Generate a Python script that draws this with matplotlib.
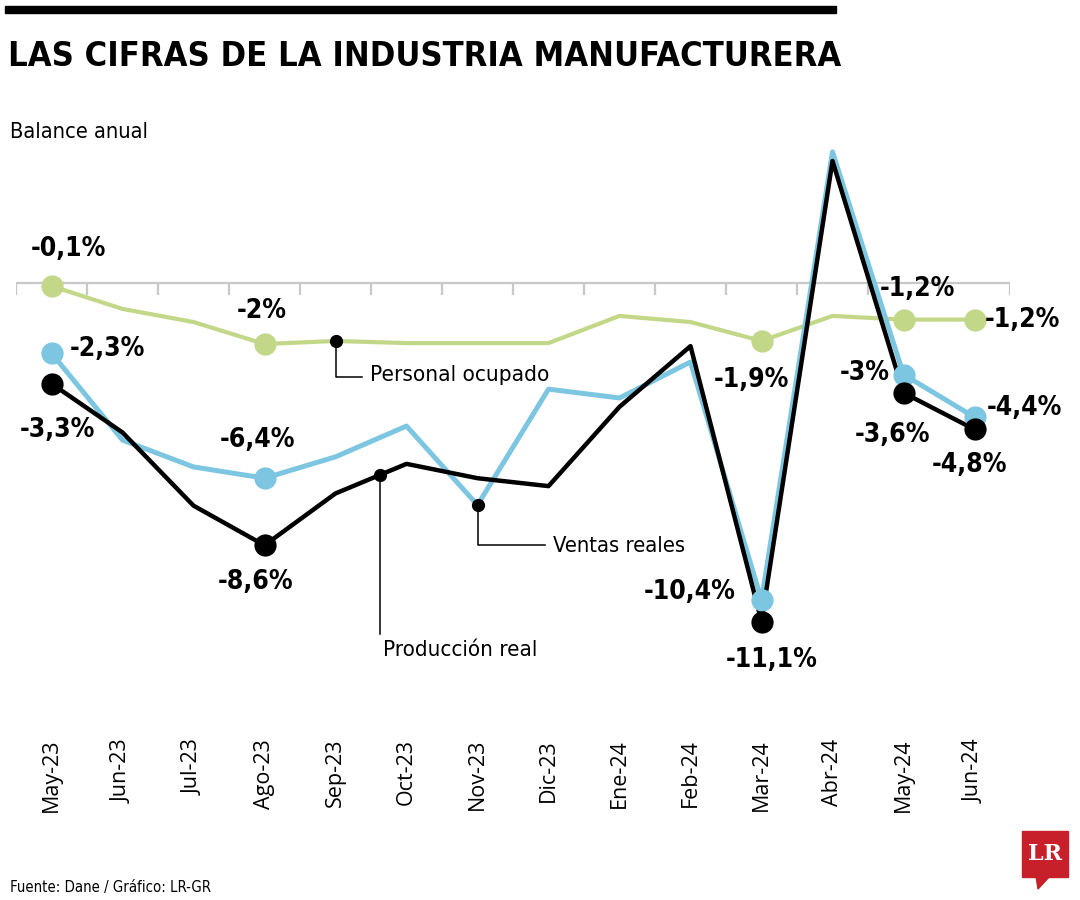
import matplotlib
matplotlib.use('Agg')
import matplotlib.pyplot as plt
from matplotlib import font_manager as fm
from matplotlib.patches import Rectangle, Polygon
from matplotlib.lines import Line2D
import numpy as np

# ---------------- data ----------------
months = ["May-23", "Jun-23", "Jul-23", "Ago-23", "Sep-23", "Oct-23", "Nov-23",
          "Dic-23", "Ene-24", "Feb-24", "Mar-24", "Abr-24", "May-24", "Jun-24"]
personal = [-0.1, -0.85, -1.28, -2.0, -1.9, -1.97, -1.97, -1.97, -1.08, -1.28, -1.9, -1.08, -1.2, -1.2]
ventas = [-2.3, -5.15, -6.03, -6.4, -5.7, -4.69, -7.28, -3.48, -3.77, -2.59, -10.4, 4.3, -3.0, -4.4]
produccion = [-3.3, -4.9, -7.3, -8.6, -6.9, -5.93, -6.4, -6.66, -4.06, -2.07, -11.1, 4.0, -3.6, -4.8]
marker_idx = [0, 3, 10, 12, 13]

personal_labels = ["-0,1%", "-2%", "-1,9%", "-1,2%", "-1,2%"]
ventas_labels = ["-2,3%", "-6,4%", "-10,4%", "-3%", "-4,4%"]
produccion_labels = ["-3,3%", "-8,6%", "-11,1%", "-3,6%", "-4,8%"]

title = "LAS CIFRAS DE LA INDUSTRIA MANUFACTURERA"
subtitle = "Balance anual"
source = "Fuente: Dane / Gráfico: LR-GR"

GREEN = "#c2d787"
BLUE = "#7dc6e1"
BLACK = "#000000"

# ---------------- fonts ----------------
def find_font(bold):
    for pref in ("Liberation Sans Narrow", "DejaVu Sans"):
        for f in fm.fontManager.ttflist:
            if f.name == pref and f.style == "normal":
                cond = ("Narrow" in f.name) or (f.stretch in ("condensed", "semi-condensed")) \
                    or ("Condensed" in f.fname)
                w = f.weight if isinstance(f.weight, int) else (700 if "bold" in str(f.weight) else 400)
                if cond and ((w >= 600) == bold):
                    return fm.FontProperties(fname=f.fname)
    return fm.FontProperties(family="Liberation Sans", weight="bold" if bold else "normal")

FB = find_font(True)
FR = find_font(False)

W, H = 1080, 900
fig = plt.figure(figsize=(W / 100, H / 100), dpi=100)

def fx(px):
    return px / W

def fy(py):
    return 1 - py / H

# axes: x 16..1010 px, y 140..700 px (top-based)
ax = fig.add_axes([fx(16), fy(700), (1010 - 16) / W, (700 - 140) / H])
n = len(months)
x = np.arange(n)
ax.set_xlim(-0.5, n - 0.5)
ppu = 30.5
ax.set_ylim(-(700 - 283) / ppu, (283 - 140) / ppu)
for s in ax.spines.values():
    s.set_visible(False)
ax.set_yticks([])
ax.set_xticks(x)
ax.set_xticklabels(months, rotation=90, fontsize=15.5, family="Open Sans", va="top", ha="center")
ax.tick_params(axis="x", length=0, pad=28)
ax.patch.set_alpha(0)

# zero line and boundary ticks
ax.axhline(0, color="#c8c8c8", lw=1.6, zorder=1)
ax.vlines(np.arange(n + 1) - 0.5, -12 / ppu, 0, color="#c8c8c8", lw=1.6, zorder=1)

# lines
ax.plot(x, personal, color=GREEN, lw=3.0, zorder=2, solid_joinstyle="round")
ax.plot(x, ventas, color=BLUE, lw=3.6, zorder=3, solid_joinstyle="round")
ax.plot(x, produccion, color=BLACK, lw=3.2, zorder=4, solid_joinstyle="round")

mi = np.array(marker_idx)
ax.plot(mi, np.array(personal)[mi], "o", color=GREEN, ms=16, mew=0, zorder=5)
ax.plot(mi, np.array(ventas)[mi], "o", color=BLUE, ms=16, mew=0, zorder=5)
ax.plot(mi, np.array(produccion)[mi], "o", color=BLACK, ms=16, mew=0, zorder=6)

# value labels: (offset px dx, dy, ha)
offs_personal = [(17, 37, "center"), (-3, 33, "center"), (-10, -39, "center"), (14, 31, "center"), (10, 0, "left")]
offs_ventas = [(18, 4, "left"), (-7, 38, "center"), (-26, 8, "right"), (-14, 2, "right"), (12, 9, "left")]
offs_produccion = [(6, -46, "center"), (-9, -37, "center"), (10, -38, "center"), (-11, -42, "center"), (-5, -36, "center")]

LABEL_SIZE = 19
for series, labels, offs in ((personal, personal_labels, offs_personal),
                             (ventas, ventas_labels, offs_ventas),
                             (produccion, produccion_labels, offs_produccion)):
    for i, lab, (dx, dy, ha) in zip(marker_idx, labels, offs):
        ax.annotate(lab, (i, series[i]), xytext=(dx, dy), textcoords="offset pixels",
                    ha=ha, va="center", fontproperties=FB, fontsize=LABEL_SIZE,
                    color="black", zorder=10)

# callouts (figure pixel coordinates, top-based y)
def to_px(xv, yv):
    X, Y = ax.transData.transform((xv, yv))
    return X, H - Y

def seg(points):
    xs = [fx(p[0]) for p in points]
    ys = [fy(p[1]) for p in points]
    fig.add_artist(Line2D(xs, ys, color="black", lw=1.1, transform=fig.transFigure, zorder=8))

texts = []
# Personal ocupado
px_, py_ = to_px(4, personal[4])
ax.plot([4], [personal[4]], "o", color="black", ms=8.5, zorder=7)
seg([(px_, py_), (px_, 377), (362, 377)])
texts.append((fig.text(fx(370), fy(375), "Personal ocupado", fontproperties=FR, fontsize=18,
                       ha="left", va="center"), 178))
# Ventas reales
px_, py_ = to_px(6, ventas[6])
ax.plot([6], [ventas[6]], "o", color="black", ms=8.5, zorder=7)
seg([(px_, py_), (px_, 545), (545, 545)])
texts.append((fig.text(fx(553), fy(546), "Ventas reales", fontproperties=FR, fontsize=18,
                       ha="left", va="center"), 132))
# Producción real
xc = 4.62
yc = float(np.interp(xc, x, produccion))
ax.plot([xc], [yc], "o", color="black", ms=8.5, zorder=7)
px_, py_ = to_px(xc, yc)
seg([(px_, py_), (px_, 634)])
texts.append((fig.text(fx(383), fy(650), "Producción real", fontproperties=FR, fontsize=18,
                       ha="left", va="center"), 154))

# header
fig.add_artist(Rectangle((fx(5), fy(13)), (836 - 5) / W, 7 / H, color="black",
                         transform=fig.transFigure))
t_title = fig.text(fx(8), fy(66), title, fontproperties=FB, fontsize=30, ha="left", va="baseline")
t_sub = fig.text(fx(10), fy(138), subtitle, fontproperties=FR, fontsize=20, ha="left", va="baseline")
t_src = fig.text(fx(10), fy(892), source, fontproperties=FR, fontsize=12, ha="left", va="baseline")
texts += [(t_title, 830), (t_sub, 138), (t_src, 200)]

# logo
fig.add_artist(Rectangle((fx(1022), fy(877)), 46 / W, 46 / H, color="#c8202a",
                         transform=fig.transFigure))
fig.add_artist(Polygon([(fx(1036), fy(876)), (fx(1050), fy(876)), (fx(1038), fy(889))],
                       closed=True, color="#c8202a", transform=fig.transFigure))
fig.text(fx(1045), fy(854), "LR", family="DejaVu Serif", weight="bold", fontsize=16,
         color="white", ha="center", va="center")

# fit text widths
fig.canvas.draw()
r = fig.canvas.get_renderer()
for t, wpx in texts:
    w = t.get_window_extent(r).width
    t.set_fontsize(t.get_fontsize() * wpx / w)

fig.savefig("out.png", dpi=100)
